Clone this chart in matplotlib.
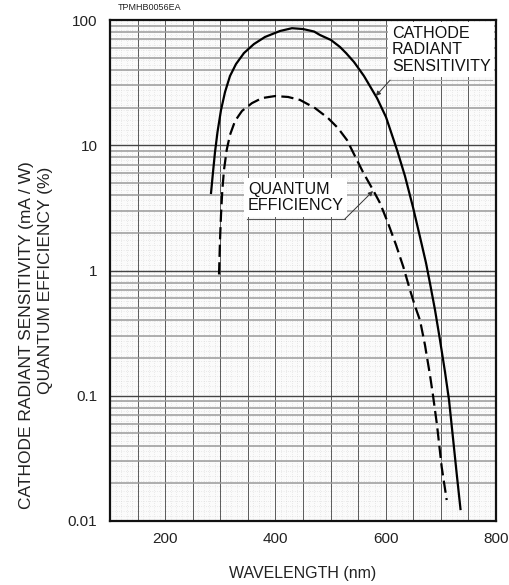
import numpy as np
import matplotlib
matplotlib.use("Agg")
import matplotlib.pyplot as plt
from matplotlib.ticker import FixedLocator, NullFormatter

plt.rcParams['font.family'] = ['Liberation Sans', 'DejaVu Sans']

# Cathode radiant sensitivity (mA/W) vs wavelength (nm)
cathode_wl = [283.2, 286.8, 290.4, 295.0, 301.3, 308.6, 317.6, 328.5, 343.0, 361.1,
              381.1, 408.3, 430.0, 450.0, 470.0, 480.8, 500.8, 517.1, 528.0, 542.5,
              560.6, 584.2, 600.5, 620.5, 634.9, 649.4, 662.2, 673.1, 680.3, 689.4,
              698.4, 707.5, 714.8, 722.0, 728.4, 735.6]
cathode_val = [4.16, 6.1, 8.8, 12.8, 19.1, 26.6, 35.7, 44.5, 54.5, 64.3,
               73.2, 81.7, 86.0, 84.7, 80.9, 75.9, 69.2, 60.9, 54.5, 46.2,
               35.7, 23.8, 16.8, 9.17, 5.68, 3.21, 1.85, 1.148, 0.79, 0.484,
               0.279, 0.155, 0.0925, 0.046, 0.0246, 0.01246]

# Quantum efficiency (%) vs wavelength (nm)
qe_wl = [297.7, 299.5, 301.3, 303.7, 306.7, 311.6, 317.6, 326.7, 339.4, 357.5,
         375.6, 399.2, 422.8, 444.6, 471.8, 495.3, 513.5, 529.8, 540.7, 558.8,
         576.9, 589.6, 604.2, 618.7, 631.9, 644.0, 653.1, 662.2, 671.2, 680.3,
         685.7, 693.0, 701.5, 710.6]
qe_val = [0.93, 1.75, 2.77, 4.39, 6.34, 9.16, 12.1, 15.6, 18.8, 21.7,
          23.8, 24.7, 24.3, 23.0, 19.8, 16.5, 13.7, 11.0, 8.8, 6.1,
          4.4, 3.46, 2.39, 1.6, 1.07, 0.70, 0.52, 0.40, 0.254, 0.146,
          0.101, 0.0584, 0.027, 0.0147]

x_ticks = [200, 400, 600, 800]
y_ticks = [0.01, 0.1, 1, 10, 100]
y_ticklabels = ['0.01', '0.1', '1', '10', '100']

fig = plt.figure(figsize=(5.10, 5.85), dpi=100)
ax = fig.add_axes([110 / 510, 1 - 521 / 585, 386 / 510, 501 / 585])
ax.set_xlim(100, 800)
ax.set_yscale('log')
ax.set_ylim(0.01, 100)
ax.set_facecolor('#fbfbfb')

# fine stippled background grid
for xv in np.arange(100, 801, 10):
    ax.axvline(xv, color='#c4c4c4', lw=0.5, ls=(0, (0.6, 2.6)), zorder=0.5)
for e in np.arange(-2, 2.001, 0.04):
    ax.axhline(10 ** e, color='#c4c4c4', lw=0.5, ls=(0, (0.6, 2.6)), zorder=0.5)

# ruled grid
for xv in np.arange(150, 800, 50):
    ax.axvline(xv, color='#5a5a5a', lw=0.7, zorder=1)
for d in [0.01, 0.1, 1, 10]:
    for m in range(2, 10):
        ax.axhline(d * m, color='#9a9a9a', lw=1.1, zorder=1)
for d in [0.1, 1, 10]:
    ax.axhline(d, color='#444444', lw=1.0, zorder=1)

ax.plot(cathode_wl, cathode_val, color='black', lw=1.6, solid_joinstyle='round', zorder=3)
ax.plot(qe_wl, qe_val, color='black', lw=1.6, ls=(0, (5.5, 2.4)), zorder=3)

ax.xaxis.set_major_locator(FixedLocator(x_ticks))
ax.yaxis.set_major_locator(FixedLocator(y_ticks))
ax.yaxis.set_minor_locator(FixedLocator([]))
ax.yaxis.set_minor_formatter(NullFormatter())
ax.set_yticklabels(y_ticklabels)
ax.tick_params(axis='both', length=0, labelsize=11, colors='#222222')
ax.tick_params(axis='x', pad=8)
ax.tick_params(axis='y', pad=9)
for s in ax.spines.values():
    s.set_linewidth(1.6)
    s.set_color('#111111')

ax.set_xlabel('WAVELENGTH (nm)', fontsize=11.5, labelpad=14, color='#222222')
fig.text(27 / 510, 1 - 335 / 585, 'CATHODE RADIANT SENSITIVITY (mA / W)',
         rotation=90, ha='center', va='center', fontsize=12.5, color='#222222')
fig.text(46 / 510, 1 - 280 / 585, 'QUANTUM EFFICIENCY (%)',
         rotation=90, ha='center', va='center', fontsize=12.5, color='#222222')

fig.text(118 / 510, 1 - 8 / 585, 'TPMHB0056EA', fontsize=6.5, va='center', color='#222222')

# curve labels with leader lines
ax.text(611, 89.5, 'CATHODE\nRADIANT\nSENSITIVITY', fontsize=11.6, linespacing=1.12,
        ha='left', va='top', color='#111111', zorder=4,
        bbox=dict(facecolor='white', edgecolor='none', pad=2.5))
ax.plot([608, 793], [33.1, 33.1], color='#aaaaaa', lw=0.8, zorder=4)
ax.annotate('', xy=(582, 24.7), xytext=(608, 33.1),
            arrowprops=dict(arrowstyle='-|>', color='#333333', lw=0.7,
                            mutation_scale=7, shrinkA=0, shrinkB=0), zorder=5)

ax.text(350, 5.09, 'QUANTUM\nEFFICIENCY', fontsize=11.6, linespacing=1.12,
        ha='left', va='top', color='#111111', zorder=4,
        bbox=dict(facecolor='white', edgecolor='none', pad=2.5))
ax.plot([348, 526], [2.58, 2.58], color='#555555', lw=0.8, zorder=4)
ax.annotate('', xy=(577, 4.31), xytext=(526, 2.58),
            arrowprops=dict(arrowstyle='-|>', color='#333333', lw=0.7,
                            mutation_scale=7, shrinkA=0, shrinkB=0), zorder=5)

fig.savefig('out.png', dpi=100)
